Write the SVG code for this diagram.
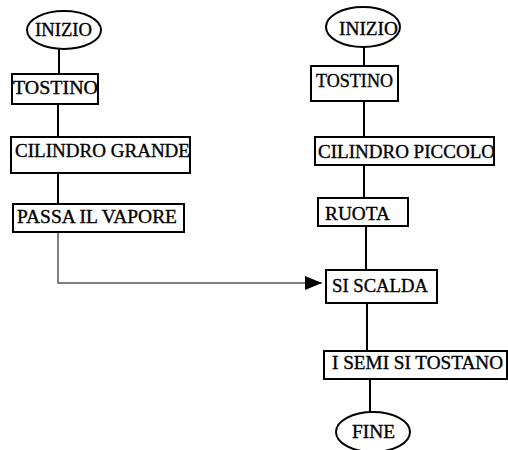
<svg xmlns="http://www.w3.org/2000/svg" width="508" height="450" viewBox="0 0 508 450">
<style>
.b{fill:#fff;stroke:#000;stroke-width:2}
.t{font-family:"Liberation Serif","Times New Roman",serif;font-size:19px;fill:#000;stroke:#000;stroke-width:0.35}
.c{stroke:#000;stroke-width:2;fill:none}
.g{stroke:#555;stroke-width:1.5;fill:none}
</style>
<defs>
<marker id="ah" markerWidth="17" markerHeight="14" refX="17" refY="7" orient="auto" markerUnits="userSpaceOnUse">
<path d="M0,0 L17,7 L0,14 Z" fill="#000"/>
</marker>
</defs>
<rect width="508" height="450" fill="#fff"/>
<g id="connectors">
<line class="c" x1="59" y1="49" x2="59" y2="74"/>
<line class="c" x1="58" y1="104" x2="58" y2="137"/>
<line class="c" x1="58" y1="173" x2="58" y2="204"/>
<polyline class="g" points="58,232 58,283 322,283" marker-end="url(#ah)"/>
<line class="c" x1="364" y1="47" x2="364" y2="66"/>
<line class="c" x1="364" y1="101" x2="364" y2="137"/>
<line class="c" x1="364" y1="165" x2="364" y2="198"/>
<line class="c" x1="366" y1="226" x2="366" y2="270"/>
<line class="c" x1="367" y1="303" x2="367" y2="351"/>
<line class="c" x1="370" y1="379" x2="370" y2="412"/>
</g>
<g id="inizio1"><ellipse class="b" cx="64" cy="30" rx="37" ry="19"/><text class="t" x="35" y="36" textLength="57" lengthAdjust="spacingAndGlyphs">INIZIO</text></g>
<g id="tostino1"><rect class="b" x="12" y="74" width="86" height="30"/><text class="t" x="13" y="94" textLength="85" lengthAdjust="spacingAndGlyphs">TOSTINO</text></g>
<g id="cilindrogrande"><rect class="b" x="11" y="137" width="179" height="36"/><text class="t" x="15" y="157" textLength="175" lengthAdjust="spacingAndGlyphs">CILINDRO GRANDE</text></g>
<g id="passa"><rect class="b" x="13" y="204" width="171" height="28"/><text class="t" x="17" y="223" textLength="160" lengthAdjust="spacingAndGlyphs">PASSA IL VAPORE</text></g>
<g id="inizio2"><ellipse class="b" cx="363" cy="27" rx="37" ry="20"/><text class="t" x="339" y="35" textLength="59" lengthAdjust="spacingAndGlyphs">INIZIO</text></g>
<g id="tostino2"><rect class="b" x="311" y="66" width="87" height="35"/><text class="t" x="316" y="87" textLength="77" lengthAdjust="spacingAndGlyphs">TOSTINO</text></g>
<g id="cilindropiccolo"><rect class="b" x="315" y="137" width="179" height="28"/><text class="t" x="318" y="158" textLength="177" lengthAdjust="spacingAndGlyphs">CILINDRO PICCOLO</text></g>
<g id="ruota"><rect class="b" x="318" y="198" width="90" height="28"/><text class="t" x="325" y="220" textLength="65" lengthAdjust="spacingAndGlyphs">RUOTA</text></g>
<g id="siscalda"><rect class="b" x="326" y="270" width="111" height="33"/><text class="t" x="332" y="292" textLength="96" lengthAdjust="spacingAndGlyphs">SI SCALDA</text></g>
<g id="semi"><rect class="b" x="324" y="351" width="183" height="28"/><text class="t" x="332" y="369" textLength="171" lengthAdjust="spacingAndGlyphs">I SEMI SI TOSTANO</text></g>
<g id="fine"><ellipse class="b" cx="373" cy="432" rx="37" ry="20"/><text class="t" x="352" y="438" textLength="43" lengthAdjust="spacingAndGlyphs">FINE</text></g>
</svg>
